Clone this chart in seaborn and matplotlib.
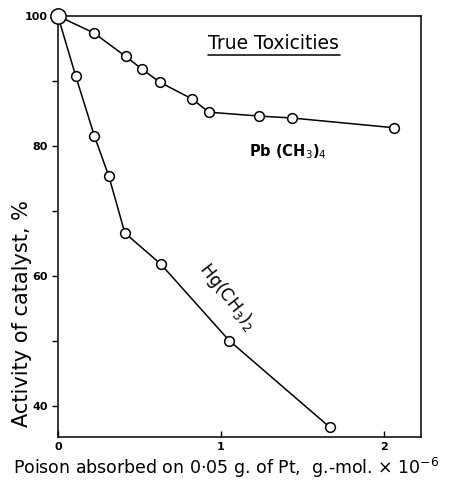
import matplotlib
matplotlib.use("Agg")
import matplotlib.pyplot as plt
import seaborn as sns
import pandas as pd

# Data
pb_x = [0.0, 0.22, 0.415, 0.517, 0.626, 0.826, 0.926, 1.233, 1.437, 2.063]
pb_y = [100.0, 97.4, 93.8, 91.8, 89.8, 87.2, 85.2, 84.6, 84.3, 82.8]
hg_x = [0.0, 0.11, 0.223, 0.313, 0.411, 0.632, 1.051, 1.669]
hg_y = [100.0, 90.7, 81.6, 75.3, 66.6, 61.8, 50.05, 36.7]

x_ticks = [0, 1, 2]
x_tick_labels = ["0", "1", "2"]
y_ticks = [40, 50, 60, 70, 80, 90, 100]
y_tick_labels = ["40", "", "60", "", "80", "", "100"]

title_text = "True Toxicities"
pb_label = "Pb (CH$_3$)$_4$"
hg_label = "Hg(CH$_3$)$_2$"
x_label = "Poison absorbed on 0·05 g. of Pt,  g.-mol. × 10$^{-6}$"
y_label = "Activity of catalyst, %"

sns.set_style("ticks")
plt.rcParams["font.family"] = ["DejaVu Sans"]
plt.rcParams["text.color"] = "black"
plt.rcParams["axes.labelcolor"] = "black"
plt.rcParams["xtick.color"] = "black"
plt.rcParams["ytick.color"] = "black"

fig = plt.figure(figsize=(4.49, 4.82), dpi=100)
ax = fig.add_axes([0.129, 0.0934, 0.809, 0.8734])

pb_df = pd.DataFrame({"x": pb_x, "y": pb_y})
hg_df = pd.DataFrame({"x": hg_x, "y": hg_y})

for df in (pb_df, hg_df):
    sns.lineplot(data=df, x="x", y="y", ax=ax, color="black", linewidth=1.1,
                 marker="o", markersize=7, markerfacecolor="white",
                 markeredgecolor="black", markeredgewidth=1.1, sort=False,
                 clip_on=False, zorder=3)

# larger open circle at the common origin point
ax.plot(pb_x[:1], pb_y[:1], marker="o", markersize=11, markerfacecolor="white",
        markeredgecolor="black", markeredgewidth=1.1, linestyle="none",
        clip_on=False, zorder=5)

ax.set_xlim(0, 2.23)
ax.set_ylim(35.2, 100)
ax.set_xticks(x_ticks)
ax.set_xticklabels(x_tick_labels, fontsize=8, fontweight="bold")
ax.set_yticks(y_ticks)
ax.set_yticklabels(y_tick_labels, fontsize=8, fontweight="bold")
ax.tick_params(axis="x", direction="in", length=4, width=1)
ax.tick_params(axis="y", direction="out", length=4, width=1)

for s in ax.spines.values():
    s.set_visible(True)
    s.set_linewidth(1.1)
    s.set_color("black")

ax.set_xlabel(x_label, fontsize=12.5)
ax.xaxis.set_label_coords(0.463, -0.045)
ax.set_ylabel(y_label, fontsize=15)
ax.yaxis.set_label_coords(-0.07, 0.292)

ax.text(1.325, 95.7, title_text, ha="center", va="center", fontsize=13.5)
ax.plot([0.92, 1.73], [94.0, 94.0], color="black", linewidth=1.1)

ax.text(1.41, 79.1, pb_label, ha="center", va="center", fontsize=10.5, fontweight="bold")
ax.text(1.04, 56.8, hg_label, ha="center", va="center", fontsize=12.5,
        rotation=-52, rotation_mode="anchor")

fig.savefig("out.png", dpi=100)
